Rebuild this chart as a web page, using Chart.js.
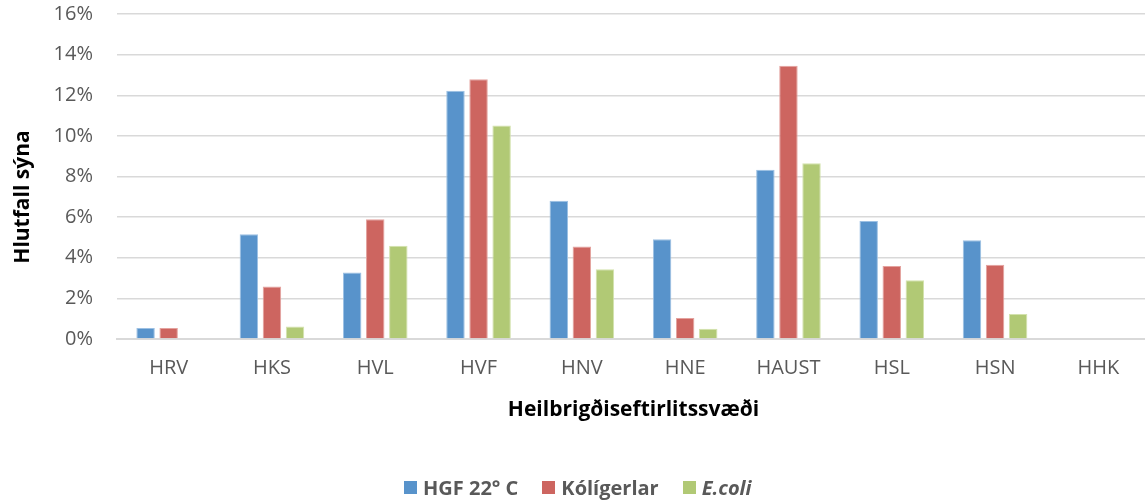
<!DOCTYPE html>
<html>
<head>
<meta charset="utf-8">
<script src="https://cdn.jsdelivr.net/npm/chart.js@4/dist/chart.umd.min.js"></script>
<style>
  html, body { margin: 0; padding: 0; background: #ffffff; overflow: hidden; }
  #wrap { position: relative; width: 1145px; height: 502px; overflow: hidden; }
  #box { position: absolute; left: 0; top: 0; width: 1150px; height: 502px; }
  #legend {
    position: absolute; left: 404px; top: 474px; display: flex; align-items: center;
    font-family: "Open Sans", sans-serif; font-weight: bold; font-size: 20px; color: #595959;
    line-height: 27px; white-space: nowrap;
  }
  #legend .item { display: flex; align-items: center; margin-right: 24px; }
  #legend .sw { width: 13px; height: 13px; margin-right: 6px; }
</style>
</head>
<body>
<div id="wrap">
  <div id="box"><canvas id="c"></canvas></div>
  <div id="legend"></div>
</div>
<script>
// Areas and measured shares (percent of samples)
const categories = ['HRV', 'HKS', 'HVL', 'HVF', 'HNV', 'HNE', 'HAUST', 'HSL', 'HSN', 'HHK'];
const hgf22 = [0.54, 5.16, 3.28, 12.22, 6.81, 4.91, 8.33, 5.81, 4.86, 0];
const koligerlar = [0.54, 2.58, 5.89, 12.79, 4.56, 1.03, 13.45, 3.60, 3.66, 0];
const ecoli = [0, 0.62, 4.59, 10.51, 3.43, 0.50, 8.65, 2.89, 1.23, 0];

const seriesNames = ['HGF 22° C', 'Kólígerlar', 'E.coli'];
const seriesItalic = [false, false, true];
const seriesColors = ['#5893cb', '#cd6560', '#b1c975'];
const seriesEdges = ['#9cc0e3', '#e4a29e', '#d3e2ad'];

const yTickValues = [0, 2, 4, 6, 8, 10, 12, 14, 16];
const yTitle = 'Hlutfall sýna';
const xTitle = 'Heilbrigðiseftirlitssvæði';

const FONT = '"Open Sans", sans-serif';
const values = [hgf22, koligerlar, ecoli];

const datasets = values.map((v, i) => ({
  label: seriesNames[i],
  data: v,
  backgroundColor: seriesColors[i],
  borderColor: seriesEdges[i],
  borderWidth: 1,
  categoryPercentage: 0.67,
  barPercentage: 0.8
}));

// Rotated y title drawn on the canvas
const yTitlePlugin = {
  id: 'yTitle',
  afterDraw(chart) {
    const ctx = chart.ctx;
    ctx.save();
    ctx.translate(23, 197);
    ctx.rotate(-Math.PI / 2);
    ctx.font = 'bold 21px ' + FONT;
    ctx.fillStyle = '#000000';
    ctx.textAlign = 'center';
    ctx.textBaseline = 'middle';
    ctx.fillText(yTitle, 0, 0);
    ctx.restore();
  }
};

new Chart(document.getElementById('c'), {
  type: 'bar',
  data: { labels: categories, datasets },
  options: {
    responsive: true,
    maintainAspectRatio: false,
    animation: false,
    layout: { padding: { left: 0, right: 0, top: 14, bottom: 73 } },
    plugins: {
      legend: { display: false },
      tooltip: { enabled: false }
    },
    scales: {
      x: {
        grid: { display: false, drawTicks: false },
        border: { display: true, color: '#d9d9d9', width: 2 },
        ticks: { color: '#595959', font: { family: FONT, size: 20 }, padding: 17, maxRotation: 0 },
        title: {
          display: true, text: xTitle, color: '#000000',
          font: { family: FONT, size: 21, weight: 'bold' },
          padding: { top: 0, bottom: 6 }
        },
        afterFit(scale) {
          scale.height = 90;
          scale.paddingLeft = 0;
          scale.paddingRight = 0;
        }
      },
      y: {
        min: 0, max: 16,
        afterBuildTicks(scale) { scale.ticks = yTickValues.map(v => ({ value: v })); },
        grid: { color: '#d9d9d9', lineWidth: 1.5, drawTicks: false },
        border: { display: false },
        ticks: {
          color: '#595959', font: { family: FONT, size: 20 }, padding: 24,
          callback: v => v + '%'
        },
        afterFit(scale) {
          scale.width = 117;
          scale.paddingTop = 0;
          scale.paddingBottom = 0;
        }
      }
    }
  },
  plugins: [yTitlePlugin]
});

// Legend row built from the series
const legend = document.getElementById('legend');
seriesNames.forEach((name, i) => {
  const item = document.createElement('div');
  item.className = 'item';
  const sw = document.createElement('span');
  sw.className = 'sw';
  sw.style.background = seriesColors[i];
  const tx = document.createElement('span');
  tx.textContent = name;
  if (seriesItalic[i]) tx.style.fontStyle = 'italic';
  item.appendChild(sw);
  item.appendChild(tx);
  legend.appendChild(item);
});
</script>
</body>
</html>
